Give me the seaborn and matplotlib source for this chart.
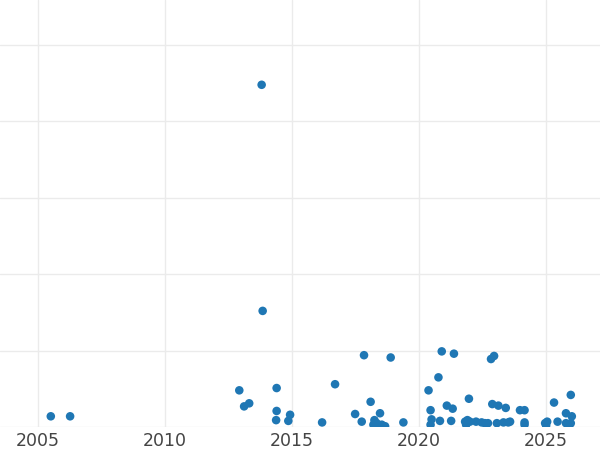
import pandas as pd
import numpy as np
import matplotlib
matplotlib.use("Agg")
import matplotlib.pyplot as plt
import seaborn as sns

# values (x = year, y = value, gridline every 100)
years = [2005.50, 2006.26, 2012.92, 2013.11, 2013.31, 2013.80, 2013.84,
         2014.39, 2014.39, 2014.37, 2014.92, 2014.85, 2016.18, 2016.69,
         2017.48, 2017.74, 2017.83, 2018.09, 2018.24, 2018.33, 2018.46,
         2018.53, 2018.66, 2018.88, 2019.38, 2018.20, 2018.40,
         2020.37, 2020.45, 2020.49, 2020.45, 2020.76, 2020.82, 2020.89,
         2021.09, 2021.32, 2021.26, 2021.37, 2021.81, 2021.96, 2022.00,
         2021.85, 2021.90, 2022.24, 2022.46, 2022.59, 2022.71, 2022.83,
         2022.95, 2022.88, 2023.12, 2023.06, 2023.41, 2023.32, 2023.51,
         2023.58, 2023.97, 2024.15, 2024.15, 2024.15, 2024.96, 2025.04,
         2025.00, 2025.31, 2025.45, 2025.78, 2025.97, 2026.01, 2025.78,
         2025.97, 2025.90]
values = [14, 14, 48, 27, 31, 448, 152,
          51, 21, 9, 16, 8, 6, 56,
          17, 7, 94, 33, 9, 5, 18,
          3, 1, 91, 6, 3, 2,
          48, 22, 10, 3, 65, 8, 99,
          28, 24, 8, 96, 7, 37, 7,
          3, 9, 7, 6, 5, 5, 89,
          93, 30, 28, 5, 25, 6, 6,
          7, 22, 22, 6, 3, 5, 7,
          2, 32, 7, 18, 42, 14, 5,
          5, 1]
xticks = [2005, 2010, 2015, 2020, 2025]

df = pd.DataFrame({"year": years, "value": values})

sns.set_style("white")
fig = plt.figure(figsize=(6, 4.5), dpi=100)
ax = fig.add_axes([0, 23 / 450, 1, 427 / 450])

sns.scatterplot(data=df, x="year", y="value", ax=ax, color="#1f77b4",
                s=38, edgecolor="none", linewidth=0, zorder=3)

ax.set_xlim(2003.5, 2027.12)
ax.set_ylim(0, 559)
ax.set_xticks(xticks)
ax.set_xticklabels([str(t) for t in xticks])
ax.set_yticks([0, 100, 200, 300, 400, 500])
ax.set_yticklabels([])
ax.grid(True, color="#ebebeb", linewidth=1)
ax.set_axisbelow(True)
ax.tick_params(axis="x", length=0, pad=3.5, labelsize=12.5, labelcolor="#444444")
ax.tick_params(axis="y", length=0)
ax.set_xlabel("")
ax.set_ylabel("")
for sp in ax.spines.values():
    sp.set_visible(False)

fig.savefig("out.png", dpi=100)
